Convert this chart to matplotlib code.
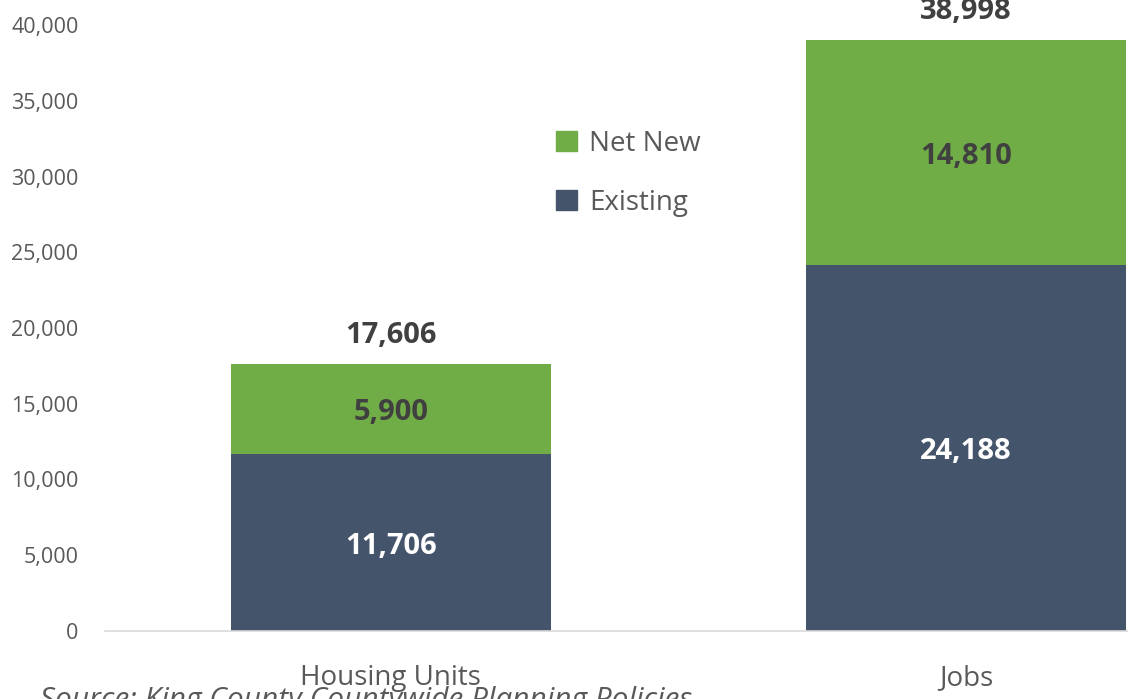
import matplotlib
matplotlib.use("Agg")
import matplotlib.pyplot as plt
from matplotlib.patches import Patch

plt.rcParams['font.family'] = ['Open Sans', 'DejaVu Sans']

categories = ["Housing Units", "Jobs"]
existing = [11706, 24188]
net_new = [5900, 14810]
totals = [17606, 38998]
yticks = [0, 5000, 10000, 15000, 20000, 25000, 30000, 35000, 40000]

navy = "#44546A"
green = "#70AD47"
txt = "#404040"
grey = "#595959"

fig = plt.figure(figsize=(11.28, 6.99), dpi=100)
W, H = 1128, 699
ax = fig.add_axes([105 / W, 1 - 631 / H, (1128 - 105) / W, (631 - 25) / H])

x = list(range(len(categories)))
bw = 0.557
ax.bar(x, existing, width=bw, color=navy, zorder=2)
ax.bar(x, net_new, width=bw, bottom=existing, color=green, zorder=2)

px = 40000 / (631 - 25)  # data units per pixel
for i in x:
    ax.text(i, existing[i] / 2 - 4 * px, f"{existing[i]:,}", ha="center", va="center",
            color="white", fontsize=21, fontweight="bold", clip_on=False)
    ax.text(i, existing[i] + net_new[i] / 2 - 4 * px, f"{net_new[i]:,}", ha="center", va="center",
            color=txt, fontsize=21, fontweight="bold", clip_on=False)
    ax.text(i, totals[i] + 29 * px, f"{totals[i]:,}", ha="center", va="center",
            color=txt, fontsize=21, fontweight="bold", clip_on=False)

ax.set_xlim(-0.497, 1.282)
ax.set_ylim(0, 40000)
ax.set_yticks(yticks)
ax.set_yticklabels([f"{v:,}" for v in yticks], color=grey, fontsize=15.5)
ax.set_xticks(x)
ax.set_xticklabels(categories, color=grey, fontsize=20)
ax.tick_params(axis="both", length=0)
ax.tick_params(axis="y", pad=19)
ax.tick_params(axis="x", pad=24)
for s in ["top", "right", "left"]:
    ax.spines[s].set_visible(False)
ax.spines["bottom"].set_color("#D9D9D9")
ax.spines["bottom"].set_linewidth(1.2)

handles = [Patch(color=green, label="Net New"), Patch(color=navy, label="Existing")]
ax.legend(handles=handles, loc="upper left", bbox_to_anchor=(531 / W, 1 - 105 / H),
          bbox_transform=fig.transFigure, frameon=False, fontsize=20,
          handlelength=0.75, handleheight=0.75, handletextpad=0.45,
          labelspacing=1.1, labelcolor=grey)

fig.text(40 / W, 1 - 686 / H, "Source: King County Countywide Planning Policies",
         fontsize=21.5, style="italic", color=grey, ha="left", va="top")

fig.savefig("out.png", dpi=100)
